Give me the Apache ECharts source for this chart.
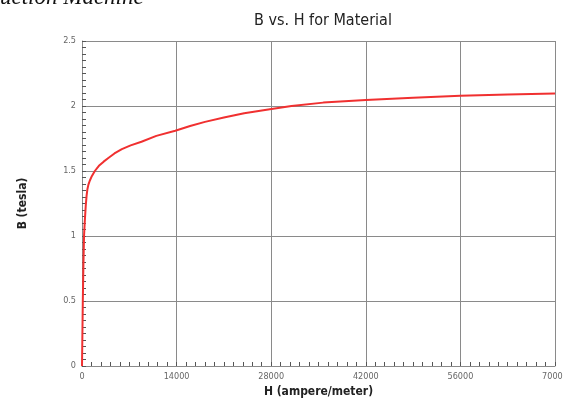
<!DOCTYPE html>
<html>
<head>
<meta charset="utf-8">
<script src="https://cdn.jsdelivr.net/npm/echarts@6/dist/echarts.min.js"></script>
<style>
html,body{margin:0;padding:0;background:#fff;}
#c{width:563px;height:405px;}
</style>
</head>
<body>
<div id="c"></div>
<script>
// Data
const H = [0, 60, 120, 200, 300, 420, 550, 680, 800, 950, 1150, 1450, 1900, 2500, 3200, 3900, 4800, 5900, 7200, 8800, 11000, 13800, 16000, 18200, 21000, 24000, 27800, 31000, 35700, 42000, 49000, 56000, 63000, 70000];
const B = [0, 0.25, 0.5, 0.75, 1.0, 1.12, 1.23, 1.31, 1.36, 1.395, 1.425, 1.46, 1.5, 1.54, 1.572, 1.6, 1.635, 1.668, 1.697, 1.725, 1.77, 1.81, 1.846, 1.878, 1.912, 1.945, 1.975, 2.0, 2.026, 2.046, 2.063, 2.078, 2.089, 2.097];
const xTicks = [0, 14000, 28000, 42000, 56000, 70000];
const yTicks = [0, 0.5, 1, 1.5, 2, 2.5];
const titleText = 'B vs. H for Material';
const xName = 'H (ampere/meter)';
const yName = 'B (tesla)';
const cornerText = 'uction Machine';

const pts = H.map((h, i) => [h, B[i]]);
const FONT = '"DejaVu Sans Condensed", "DejaVu Sans", sans-serif';
const gridColor = '#8a8a8a';

const chart = echarts.init(document.getElementById('c'), null, {renderer: 'canvas'});
chart.setOption({
  animation: false,
  backgroundColor: '#fff',
  title: {
    text: titleText,
    left: 318, top: 8,
    textAlign: 'center',
    textStyle: {fontFamily: FONT, fontSize: 16, fontWeight: 'normal', color: '#222'}
  },
  graphic: [{
    type: 'text', left: 0, top: -14,
    style: {text: cornerText, font: 'italic 23px "Liberation Serif", serif', fill: '#111'}
  }],
  grid: {left: 82, right: 8, top: 41, bottom: 39, containLabel: false, outerBoundsMode: 'none'},
  xAxis: {
    type: 'value', min: xTicks[0], max: xTicks[xTicks.length - 1], interval: xTicks[1] - xTicks[0],
    name: xName, nameLocation: 'middle', nameGap: 19,
    nameTextStyle: {fontFamily: FONT, fontSize: 12, fontWeight: 'bold', color: '#222'},
    axisLine: {show: true, lineStyle: {color: gridColor, width: 1}},
    axisTick: {show: true, inside: true, length: 4, lineStyle: {color: '#555'}},
    minorTick: {show: true, splitNumber: 10, length: 4, lineStyle: {color: '#555', width: 1}},
    axisLabel: {fontFamily: FONT, fontSize: 9, color: '#666', margin: 6, formatter: v => String(v)},
    splitLine: {show: true, lineStyle: {color: gridColor, width: 1}}
  },
  yAxis: {
    type: 'value', min: yTicks[0], max: yTicks[yTicks.length - 1], interval: yTicks[1] - yTicks[0],
    name: yName, nameLocation: 'middle', nameGap: 53,
    nameTextStyle: {fontFamily: FONT, fontSize: 12, fontWeight: 'bold', color: '#222'},
    axisLine: {show: true, lineStyle: {color: gridColor, width: 1}},
    axisTick: {show: true, inside: true, length: 4, lineStyle: {color: '#555'}},
    minorTick: {show: true, splitNumber: 10, length: 4, lineStyle: {color: '#555', width: 1}},
    axisLabel: {fontFamily: FONT, fontSize: 9, color: '#666', margin: 6, formatter: v => String(v)},
    splitLine: {show: true, lineStyle: {color: gridColor, width: 1}}
  },
  series: [{
    type: 'line', data: pts, showSymbol: false, smooth: false,
    lineStyle: {color: '#f03030', width: 2}
  }]
});
</script>
</body>
</html>
